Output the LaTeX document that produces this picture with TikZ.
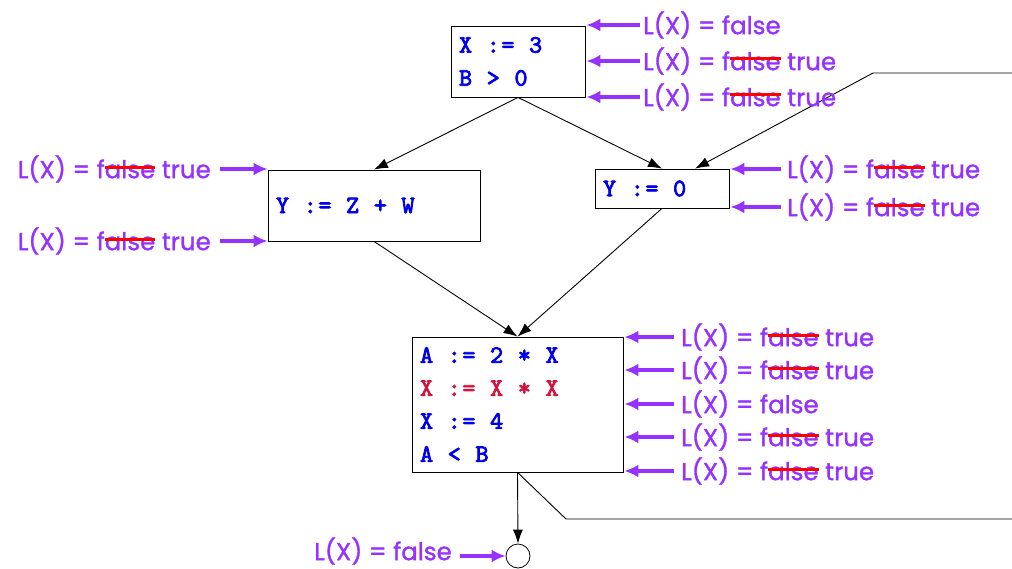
\documentclass[tikz,border=0pt]{standalone}
\usepackage{fontspec}
\setmainfont{Poppins}[FakeBold=1.3]
\setmonofont{lmmono10-regular.otf}[FakeBold=3, LetterSpace=6]
\usetikzlibrary{arrows.meta}
\definecolor{cblue}{RGB}{0,0,235}
\definecolor{cred}{RGB}{210,20,60}
\definecolor{cpurple}{RGB}{150,50,255}
\newcommand{\strk}[1]{\setbox0\hbox{#1}\copy0\llap{\textcolor{red}{\rule[0.72ex]{\wd0}{3pt}}}}
\newcommand{\LF}{L(X) = false}
\newcommand{\LFT}{L(X) = f\strk{alse} true}
\newcommand{\SP}{\hspace*{14.6pt}}
\begin{document}
\begin{tikzpicture}[x=1pt,y=-1pt,
  code/.style={draw, line width=0.8pt, font=\ttfamily\fontsize{25}{33}\selectfont, text=cblue, align=left, inner xsep=8pt, inner ysep=0pt},
  lbl/.style={font=\fontsize{24.5}{28}\selectfont, text=cpurple, inner sep=0pt},
  parr/.style={draw=cpurple, line width=3.5pt, -{Latex[length=14pt,width=13pt]}},
  barr/.style={draw, line width=0.9pt, -{Latex[length=14pt,width=10pt]}},
  bline/.style={draw, line width=0.9pt}]
\useasboundingbox (0,0) rectangle (1012,568);
% boxes
\node[code, minimum width=134pt, minimum height=71pt, text width=118pt] (b1) at (518,61.5) {X\SP:=\SP3\\B\SP>\SP0};
\node[code, minimum width=212pt, minimum height=71pt, text width=196pt] (b2) at (374,205.5) {Y\SP:=\SP Z\SP+\SP W};
\node[code, minimum width=134pt, minimum height=39pt, text width=118pt] (b3) at (662,188.5) {Y\SP:=\SP0};
\node[code, minimum width=211pt, minimum height=135pt, text width=195pt] (b4) at (517.5,404.5) {A\SP:=\SP2\SP*\SP X\\\textcolor{cred}{X\SP:=\SP X\SP*\SP X}\\X\SP:=\SP4\\A\SP<\SP B};
\node[draw, circle, minimum size=24pt, inner sep=0pt, line width=0.8pt] (c) at (518,556) {};
% control flow edges
\coordinate (in1) at (1012,73);
\coordinate (k1) at (873,73);
\coordinate (k2) at (566,519);
\coordinate (out1) at (1012,519);
\draw[barr] (b1.south) -- (b2.north);
\draw[barr] (b1.south) -- (b3.north);
\draw[barr] (in1) -- (k1) -- ([xshift=33pt]b3.north);
\draw[barr] (b2.south) -- (b4.north);
\draw[barr] (b3.south) -- (b4.north);
\draw[barr] (b4.south) -- (c.north);
\draw[bline] (b4.south) -- (k2) -- (out1);
% labels box1
\node[lbl, anchor=west] (l1a) at (643,25) {\LF};
\node[lbl, anchor=west] (l1b) at (643,61) {\LFT};
\node[lbl, anchor=west] (l1c) at (643,97) {\LFT};
\foreach \n in {l1a,l1b,l1c} \draw[parr] ([xshift=-3pt]\n.west) -- ([xshift=1pt]\n.west -| b1.east);
% labels box2
\node[lbl, anchor=east] (l2a) at (211,169) {\LFT};
\node[lbl, anchor=east] (l2b) at (211,241) {\LFT};
\foreach \n in {l2a,l2b} \draw[parr] ([xshift=9pt]\n.east) -- (\n.east -| b2.west);
% labels box3
\node[lbl, anchor=west] (l3a) at (787,169) {\LFT};
\node[lbl, anchor=west] (l3b) at (787,207) {\LFT};
\foreach \n in {l3a,l3b} \draw[parr] ([xshift=-6pt]\n.west) -- ([xshift=1pt]\n.west -| b3.east);
% labels box4
\node[lbl, anchor=west] (l4a) at (681,337) {\LFT};
\node[lbl, anchor=west] (l4b) at (681,370) {\LFT};
\node[lbl, anchor=west] (l4c) at (681,404) {\LF};
\node[lbl, anchor=west] (l4d) at (681,437) {\LFT};
\node[lbl, anchor=west] (l4e) at (681,471) {\LFT};
\foreach \n in {l4a,l4b,l4c,l4d,l4e} \draw[parr] ([xshift=-7pt]\n.west) -- ([xshift=1pt]\n.west -| b4.east);
% exit label
\node[lbl, anchor=east] (l5) at (452,551) {\LF};
\draw[parr] ([xshift=8pt]l5.east |- c.west) -- (c.west);
\end{tikzpicture}
\end{document}
